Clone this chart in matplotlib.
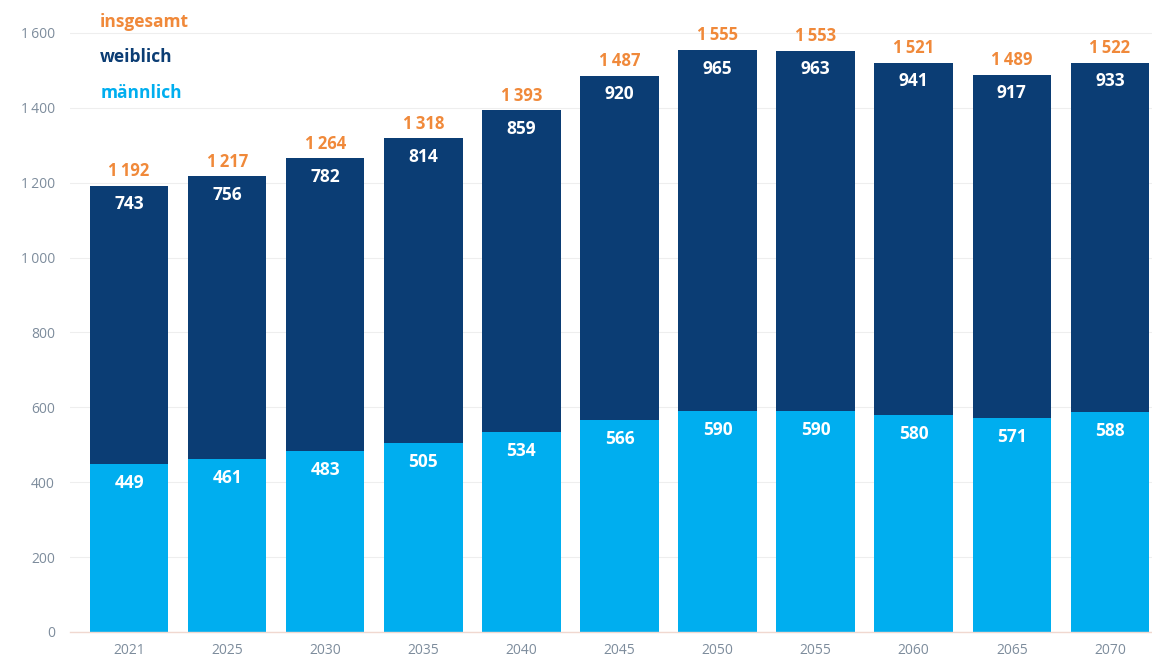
import matplotlib
matplotlib.use("Agg")
import matplotlib.pyplot as plt
import numpy as np

# Bevölkerung nach Geschlecht (Tsd.)
years = ["2021", "2025", "2030", "2035", "2040", "2045", "2050", "2055", "2060", "2065", "2070"]
maennlich = [449, 461, 483, 505, 534, 566, 590, 590, 580, 571, 588]
weiblich = [743, 756, 782, 814, 859, 920, 965, 963, 941, 917, 933]
insgesamt = [1192, 1217, 1264, 1318, 1393, 1487, 1555, 1553, 1521, 1489, 1522]
y_ticks = [0, 200, 400, 600, 800, 1000, 1200, 1400, 1600]

c_light = "#00aeef"
c_dark = "#0b3d74"
c_orange = "#f0893a"
c_tick = "#7d8c9c"


def fmt(v):
    # Tausendertrennzeichen als schmales Leerzeichen
    s = f"{v:,}".replace(",", "\u2009")
    return s


plt.rcParams["font.family"] = ["Open Sans", "DejaVu Sans"]

fig = plt.figure(figsize=(11.52, 6.59), dpi=100)
ax = fig.add_axes([0.061, 0.041, 0.939, 0.959])

x = np.arange(len(years))
ax.bar(x, maennlich, width=0.8, color=c_light, zorder=2)
ax.bar(x, weiblich, width=0.8, bottom=maennlich, color=c_dark, zorder=2)

for i in range(len(years)):
    ax.annotate(str(maennlich[i]), (x[i], maennlich[i]), xytext=(0, -7), textcoords="offset points",
                ha="center", va="top", color="white", fontsize=12.5, fontweight="bold")
    ax.annotate(str(weiblich[i]), (x[i], insgesamt[i]), xytext=(0, -7), textcoords="offset points",
                ha="center", va="top", color="white", fontsize=12.5, fontweight="bold")
    ax.annotate(fmt(insgesamt[i]), (x[i], insgesamt[i]), xytext=(0, 4), textcoords="offset points",
                ha="center", va="bottom", color=c_orange, fontsize=12, fontweight="bold")

ax.set_xlim(-0.6, 10.43)
ax.set_ylim(0, 1688)
ax.set_yticks(y_ticks)
ax.set_yticklabels([fmt(v) for v in y_ticks])
ax.set_xticks(x)
ax.set_xticklabels(years)
ax.tick_params(axis="both", length=0, colors=c_tick, labelsize=10)
ax.tick_params(axis="y", pad=11)
ax.tick_params(axis="x", pad=8)
ax.grid(axis="y", color="#eeeeee", linewidth=0.8, zorder=0)
for side in ["top", "right", "left"]:
    ax.spines[side].set_visible(False)
ax.spines["bottom"].set_color("#f0d8d0")
ax.spines["bottom"].set_linewidth(1.0)

# Legende als Text
legend = [("insgesamt", c_orange), ("weiblich", c_dark), ("männlich", c_light)]
for k, (label, col) in enumerate(legend):
    fig.text(0.087, 1 - (22 + 35.5 * k) / 659, label, color=col, fontsize=12.5, fontweight="bold",
             ha="left", va="center")

fig.savefig("out.png", dpi=100)
